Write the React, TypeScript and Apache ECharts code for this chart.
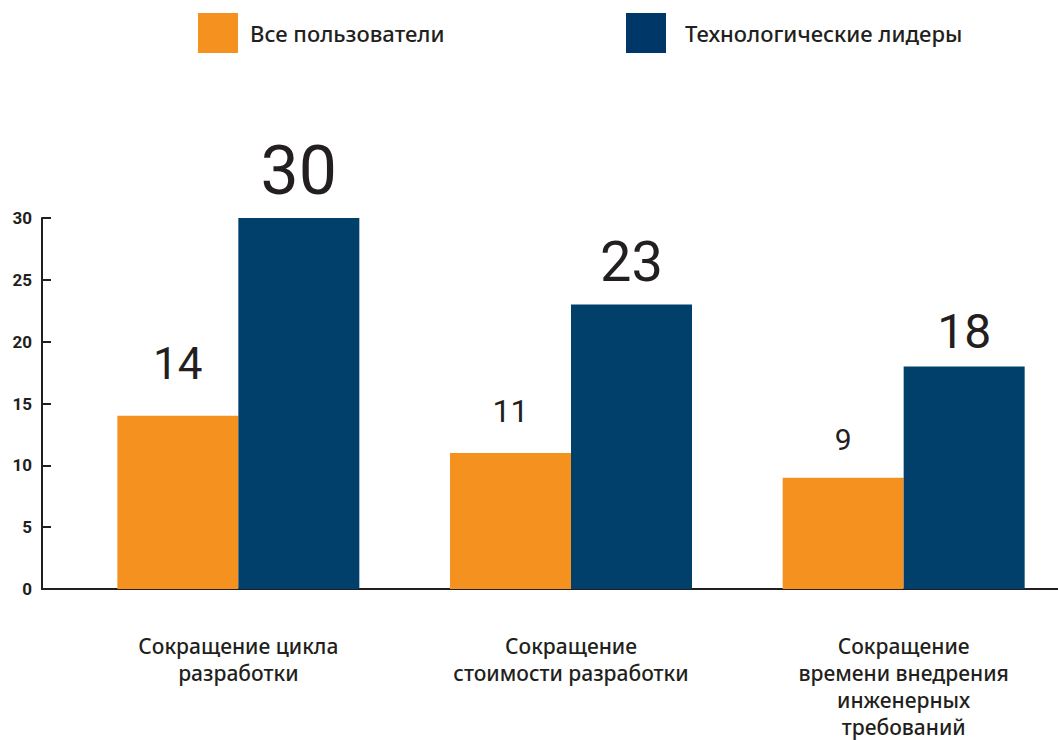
import React, { useEffect, useRef } from "react";
import * as echarts from "echarts";

const categories = [
  "Сокращение цикла\nразработки",
  "Сокращение\nстоимости разработки",
  "Сокращение\nвремени внедрения\nинженерных\nтребований",
];
const seriesNames = ["Все пользователи", "Технологические лидеры"];
const allUsers = [14, 11, 9];
const techLeaders = [30, 23, 18];
const yTicks = [0, 5, 10, 15, 20, 25, 30];

// label styling (font size, distance) per bar
const allUsersLabelSize = [44, 32, 30];
const allUsersLabelDist = [30, 26, 23];
const leadersLabelSize = [68, 56, 48];
const leadersLabelDist = [13, 15, 11];

const ORANGE = "#F5921F";
const BLUE = "#00406A";
const BLUE_LEGEND = "#003769";
const INK = "#231F20";
const NUMFONT = "Roboto, 'Noto Sans', sans-serif";
const FONT = "'Noto Sans', Roboto, sans-serif";

export default function App() {
  const ref = useRef<HTMLDivElement>(null);
  useEffect(() => {
    if (!ref.current) return;
    const chart = echarts.init(ref.current, null, { renderer: "svg" });
    const mk = (vals: number[], sizes: number[], dists: number[]) =>
      vals.map((v, i) => ({
        value: v,
        label: { fontSize: sizes[i], distance: dists[i] },
      }));
    chart.setOption({
      animation: false,
      textStyle: { fontFamily: FONT },
      legend: [
        {
          left: 193,
          top: 8,
          itemWidth: 40,
          itemHeight: 40,
          icon: "rect",
          data: [{ name: seriesNames[0], itemStyle: { color: ORANGE } }],
          textStyle: { fontSize: 22, fontWeight: 500, color: INK, fontFamily: FONT, padding: [0, 0, 4, 7] },
        },
        {
          left: 621,
          top: 8,
          itemWidth: 40,
          itemHeight: 40,
          icon: "rect",
          data: [{ name: seriesNames[1], itemStyle: { color: BLUE_LEGEND } }],
          textStyle: { fontSize: 22, fontWeight: 500, color: INK, fontFamily: FONT, padding: [0, 0, 4, 14] },
        },
      ],
      grid: {
        left: 72,
        top: 218,
        width: 998,
        height: 371,
        containLabel: false,
        outerBoundsMode: "none",
      },
      xAxis: {
        type: "category",
        data: categories,
        axisLine: { lineStyle: { color: INK, width: 2 } },
        axisTick: {
          inside: true,
          length: 16,
          interval: (idx: number) => idx > 0,
          lineStyle: { color: INK, width: 2 },
        },
        axisLabel: {
          interval: 0,
          margin: 43,
          fontSize: 21,
          fontWeight: 500,
          lineHeight: 27,
          color: INK,
          fontFamily: FONT,
          align: "center",
        },
      },
      yAxis: {
        type: "value",
        min: yTicks[0],
        max: yTicks[yTicks.length - 1],
        interval: yTicks[1] - yTicks[0],
        offset: 30,
        axisLine: { show: true, lineStyle: { color: INK, width: 2 } },
        axisTick: { show: true, inside: true, length: 9, lineStyle: { color: INK, width: 2 } },
        splitLine: { show: false },
        axisLabel: { margin: 10, fontSize: 17, fontWeight: "bold", color: INK, fontFamily: NUMFONT },
      },
      series: [
        {
          name: seriesNames[0],
          type: "bar",
          barWidth: 121,
          barGap: "0%",
          itemStyle: { color: ORANGE },
          label: { show: true, position: "top", color: INK, fontFamily: NUMFONT },
          data: mk(allUsers, allUsersLabelSize, allUsersLabelDist),
        },
        {
          name: seriesNames[1],
          type: "bar",
          barWidth: 121,
          barGap: "0%",
          itemStyle: { color: BLUE },
          label: { show: true, position: "top", color: INK, fontFamily: NUMFONT },
          data: mk(techLeaders, leadersLabelSize, leadersLabelDist),
        },
      ],
      graphic: [
        {
          type: "line",
          shape: { x1: 41, y1: 589, x2: 73, y2: 589 },
          style: { stroke: INK, lineWidth: 2 },
        },
      ],
    });
    return () => chart.dispose();
  }, []);
  return (
    <div
      ref={ref}
      style={{ position: "absolute", left: 0, top: 0, width: 1058, height: 740, background: "#fff" }}
    />
  );
}
